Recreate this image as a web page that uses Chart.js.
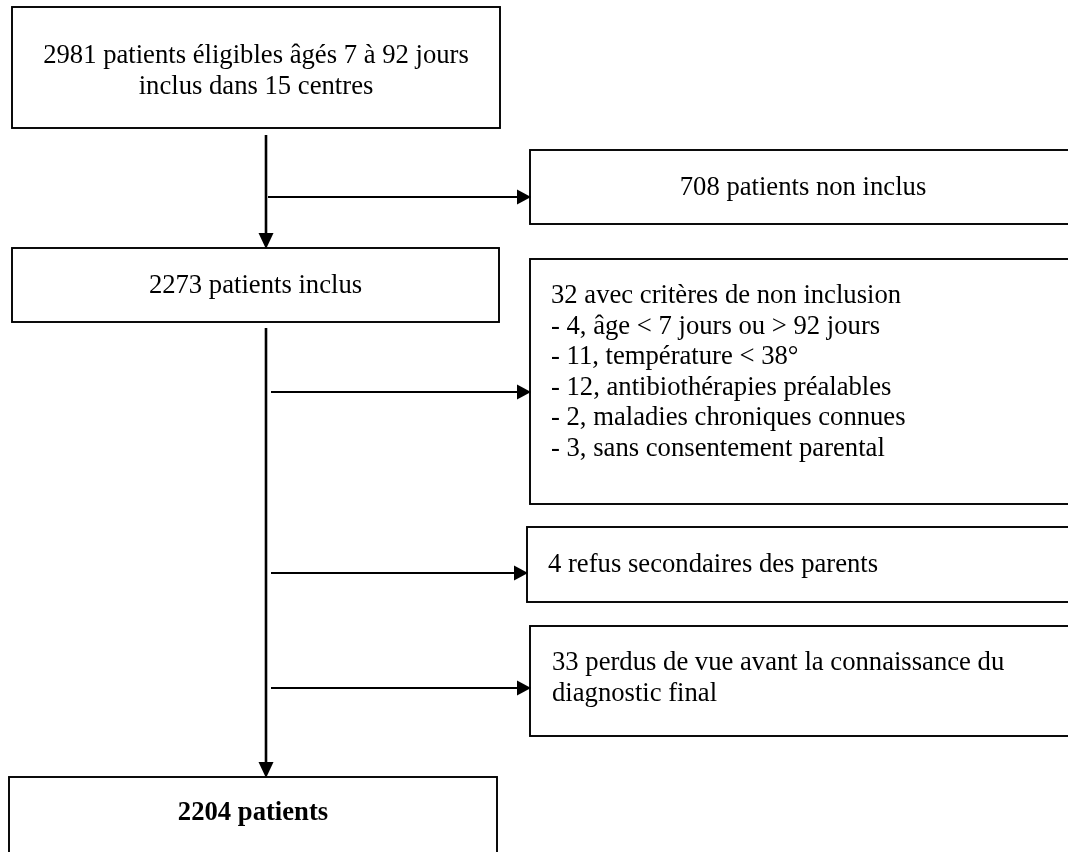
<!DOCTYPE html>
<html>
<head>
<meta charset="utf-8">
<script src="https://cdn.jsdelivr.net/npm/chart.js@4/dist/chart.umd.min.js"></script>
<style>
  html, body { margin: 0; padding: 0; background: #ffffff; }
  #wrap { width: 1068px; height: 852px; position: relative; }
</style>
</head>
<body>
<div id="wrap"><canvas id="c" width="1068" height="852"></canvas></div>
<script>
// ---- data ----
const mainCounts = [2981, 2273, 2204];
const mainLabels = [
  ["patients éligibles âgés 7 à 92 jours", "inclus dans 15 centres"],
  ["patients inclus"],
  ["patients"]
];
const exclusionCounts = [708, 32, 4, 33];
const exclusionLabels = [
  ["patients non inclus"],
  ["avec critères de non inclusion"],
  ["refus secondaires des parents"],
  ["perdus de vue avant la connaissance du", "diagnostic final"]
];
const criteriaCounts = [4, 11, 12, 2, 3];
const criteriaLabels = [
  "âge < 7 jours ou > 92 jours",
  "température < 38°",
  "antibiothérapies préalables",
  "maladies chroniques connues",
  "sans consentement parental"
];

// ---- layout (drawing units, mapped through the chart scales) ----
const mainBoxes = [
  { x0: 12, x1: 500, y0: 7, y1: 128, cx: 256, base: 63, align: 'center', bold: false },
  { x0: 12, x1: 499, y0: 248, y1: 322, cx: 255.5, base: 293, align: 'center', bold: false },
  { x0: 9, x1: 497, y0: 777, y1: 900, cx: 253, base: 820, align: 'center', bold: true }
];
const sideBoxes = [
  { x0: 530, x1: 1090, y0: 150, y1: 224, cx: 803, base: 195, align: 'center', arrowY: 197, arrowX0: 268 },
  { x0: 530, x1: 1090, y0: 259, y1: 504, cx: 551, base: 303, align: 'left', arrowY: 392, arrowX0: 271 },
  { x0: 527, x1: 1090, y0: 527, y1: 602, cx: 548, base: 572, align: 'left', arrowY: 573, arrowX0: 271 },
  { x0: 530, x1: 1090, y0: 626, y1: 736, cx: 552, base: 670, align: 'left', arrowY: 688, arrowX0: 271 }
];
const trunkX = 266;
const trunks = [ { y0: 135, y1: 248 }, { y0: 328, y1: 777 } ];
const lineH = 30.6;
const fontPx = 26.67;

const flowPlugin = {
  id: 'flow',
  afterDraw(chart) {
    const ctx = chart.ctx;
    const xs = chart.scales.x, ys = chart.scales.y;
    const X = v => xs.getPixelForValue(v);
    const Y = v => ys.getPixelForValue(v);
    ctx.save();
    ctx.fillStyle = '#ffffff';
    ctx.fillRect(0, 0, chart.width, chart.height);
    ctx.strokeStyle = '#000000';
    ctx.fillStyle = '#000000';

    function box(b) {
      ctx.lineWidth = 1.9;
      ctx.strokeRect(X(b.x0), Y(b.y0), X(b.x1) - X(b.x0), Y(b.y1) - Y(b.y0));
    }
    function text(lines, b, bold) {
      ctx.font = (bold ? 'bold ' : '') + fontPx + 'px "Liberation Serif", "Times New Roman", serif';
      ctx.textAlign = b.align;
      ctx.textBaseline = 'alphabetic';
      lines.forEach((t, i) => ctx.fillText(t, X(b.cx), Y(b.base + i * lineH)));
    }
    function arrowDown(x, y0, y1) {
      ctx.lineWidth = 2.6;
      ctx.beginPath();
      ctx.moveTo(X(x), Y(y0));
      ctx.lineTo(X(x), Y(y1) - 14);
      ctx.stroke();
      ctx.beginPath();
      ctx.moveTo(X(x), Y(y1) + 1);
      ctx.lineTo(X(x) - 7.5, Y(y1) - 15);
      ctx.lineTo(X(x) + 7.5, Y(y1) - 15);
      ctx.closePath();
      ctx.fill();
    }
    function arrowRight(y, x0, x1) {
      ctx.lineWidth = 2.2;
      ctx.beginPath();
      ctx.moveTo(X(x0), Y(y));
      ctx.lineTo(X(x1) - 12, Y(y));
      ctx.stroke();
      ctx.beginPath();
      ctx.moveTo(X(x1) + 1, Y(y));
      ctx.lineTo(X(x1) - 13, Y(y) - 7.5);
      ctx.lineTo(X(x1) - 13, Y(y) + 7.5);
      ctx.closePath();
      ctx.fill();
    }

    // main column
    mainBoxes.forEach((b, i) => {
      box(b);
      const lines = mainLabels[i].slice();
      lines[0] = mainCounts[i] + ' ' + lines[0];
      text(lines, b, b.bold);
    });
    trunks.forEach(t => arrowDown(trunkX, t.y0, t.y1));

    // side boxes
    sideBoxes.forEach((b, i) => {
      box(b);
      let lines = exclusionLabels[i].slice();
      lines[0] = exclusionCounts[i] + ' ' + lines[0];
      if (i === 1) {
        lines = lines.concat(criteriaCounts.map((n, k) => '- ' + n + ', ' + criteriaLabels[k]));
      }
      text(lines, b, false);
      arrowRight(b.arrowY, b.arrowX0, b.x0);
    });
    ctx.restore();
  }
};

new Chart(document.getElementById('c'), {
  type: 'scatter',
  data: { datasets: [{ data: [], pointRadius: 0 }] },
  options: {
    responsive: false,
    animation: false,
    events: [],
    layout: { padding: 0 },
    plugins: { legend: { display: false }, tooltip: { enabled: false } },
    scales: {
      x: { type: 'linear', min: 0, max: 1068, display: false },
      y: { type: 'linear', min: 0, max: 852, reverse: true, display: false }
    }
  },
  plugins: [flowPlugin]
});
</script>
</body>
</html>
